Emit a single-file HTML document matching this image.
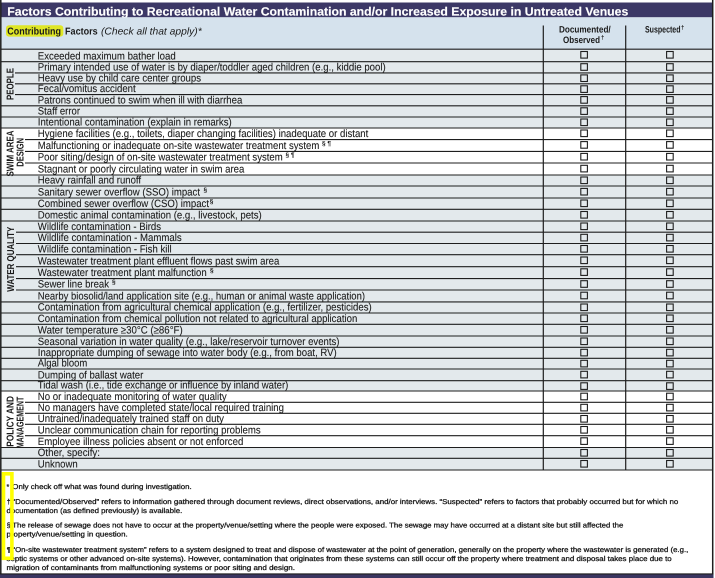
<!DOCTYPE html>
<html>
<head>
<meta charset="utf-8">
<style>
  html,body{margin:0;padding:0;background:#fff;width:715px;height:578px;overflow:hidden;}
  svg{display:block;}
  text{font-family:"Liberation Sans", Arial, sans-serif;}
</style>
</head>
<body>
<svg width="715" height="578" viewBox="0 0 715 578" xmlns="http://www.w3.org/2000/svg" text-rendering="geometricPrecision">
  <rect x="0" y="0" width="715" height="578" fill="#ffffff"/>

  <!-- Title bar -->
  <rect x="1.3" y="2.5" width="711.3" height="14.8" fill="#3c3866"/>
  <text x="7.3" y="15.6" font-size="11.9" font-weight="bold" fill="#ffffff" stroke="#ffffff" stroke-width="0.15" textLength="621" lengthAdjust="spacingAndGlyphs">Factors Contributing to Recreational Water Contamination and/or Increased Exposure in Untreated Venues</text>

  <!-- Header area -->
  <rect x="1.3" y="17.3" width="711.3" height="31.9" fill="#d5e2ed"/>
  <rect x="6" y="25.3" width="57.3" height="11.3" rx="3" fill="#dfe626"/>
  <text x="7.3" y="34.3" font-size="10" font-weight="bold" fill="#1a1a1a" textLength="53.7" lengthAdjust="spacingAndGlyphs">Contributing</text>
  <text x="65" y="34.3" font-size="10" font-weight="bold" fill="#1a1a1a" textLength="32.7" lengthAdjust="spacingAndGlyphs">Factors</text>
  <text x="101" y="34.3" font-size="10" font-style="italic" fill="#1a1a1a" textLength="100.7" lengthAdjust="spacingAndGlyphs">(Check all that apply)*</text>

  <text x="559" y="32.7" font-size="9.3" font-weight="bold" fill="#1a1a1a" textLength="51.7" lengthAdjust="spacingAndGlyphs">Documented/</text>
  <text x="563" y="43" font-size="9.3" font-weight="bold" fill="#1a1a1a" textLength="37" lengthAdjust="spacingAndGlyphs">Observed</text>
  <text x="601" y="39.3" font-size="6" font-weight="bold" fill="#1a1a1a">†</text>
  <text x="645" y="32.7" font-size="9.3" font-weight="bold" fill="#1a1a1a" textLength="35.5" lengthAdjust="spacingAndGlyphs">Suspected</text>
  <text x="681" y="29.3" font-size="6" font-weight="bold" fill="#1a1a1a">†</text>

  <!-- Row backgrounds -->
  <rect x="1.3" y="49.2" width="711.3" height="78.8" fill="#e3e9ec"/>
  <rect x="1.3" y="175" width="711.3" height="216" fill="#e3e9ec"/>
  <rect x="1.3" y="447.5" width="711.3" height="22.5" fill="#e3e9ec"/>

  <!-- Horizontal row lines -->
  <g stroke="#1e1e1e" stroke-width="1.1">
    <line x1="1" y1="49.2" x2="712.6" y2="49.2"/>
    <line x1="1" y1="61.7" x2="712.6" y2="61.7"/>
    <line x1="15" y1="72.9" x2="712.6" y2="72.9"/>
    <line x1="15" y1="83.8" x2="712.6" y2="83.8"/>
    <line x1="15" y1="94.6" x2="712.6" y2="94.6"/>
    <line x1="1" y1="105.8" x2="712.6" y2="105.8"/>
    <line x1="1" y1="117" x2="712.6" y2="117"/>
    <line x1="1" y1="128" x2="712.6" y2="128"/>
    <line x1="25" y1="139.6" x2="712.6" y2="139.6"/>
    <line x1="25" y1="151.4" x2="712.6" y2="151.4"/>
    <line x1="25" y1="163" x2="712.6" y2="163"/>
    <line x1="1" y1="175" x2="712.6" y2="175"/>
    <line x1="1" y1="186" x2="712.6" y2="186"/>
    <line x1="1" y1="198" x2="712.6" y2="198"/>
    <line x1="1" y1="209.3" x2="712.6" y2="209.3"/>
    <line x1="1" y1="221" x2="712.6" y2="221"/>
    <line x1="16" y1="232.2" x2="712.6" y2="232.2"/>
    <line x1="16" y1="243.5" x2="712.6" y2="243.5"/>
    <line x1="16" y1="254.7" x2="712.6" y2="254.7"/>
    <line x1="16" y1="266.7" x2="712.6" y2="266.7"/>
    <line x1="16" y1="278.6" x2="712.6" y2="278.6"/>
    <line x1="16" y1="290" x2="712.6" y2="290"/>
    <line x1="1" y1="301.9" x2="712.6" y2="301.9"/>
    <line x1="1" y1="313" x2="712.6" y2="313"/>
    <line x1="1" y1="324.3" x2="712.6" y2="324.3"/>
    <line x1="1" y1="336" x2="712.6" y2="336"/>
    <line x1="1" y1="347.3" x2="712.6" y2="347.3"/>
    <line x1="1" y1="358.3" x2="712.6" y2="358.3"/>
    <line x1="1" y1="369" x2="712.6" y2="369"/>
    <line x1="1" y1="380.7" x2="712.6" y2="380.7"/>
    <line x1="1" y1="391" x2="712.6" y2="391"/>
    <line x1="25" y1="402.3" x2="712.6" y2="402.3"/>
    <line x1="25" y1="413.3" x2="712.6" y2="413.3"/>
    <line x1="25" y1="424.3" x2="712.6" y2="424.3"/>
    <line x1="25" y1="435.7" x2="712.6" y2="435.7"/>
    <line x1="1" y1="447.5" x2="712.6" y2="447.5"/>
    <line x1="1" y1="458.3" x2="712.6" y2="458.3"/>
    <line x1="1" y1="470" x2="712.6" y2="470"/>
  </g>

  <!-- Column dividers and borders -->
  <g stroke="#1e1e1e">
    <line x1="543.3" y1="25.5" x2="543.3" y2="470" stroke-width="1.2"/>
    <line x1="625.7" y1="25.5" x2="625.7" y2="470" stroke-width="1.2"/>
    <line x1="0.8" y1="0" x2="0.8" y2="575" stroke-width="1.5"/>
    <line x1="712.7" y1="0" x2="712.7" y2="578" stroke-width="1.5"/>
    <line x1="0" y1="574" x2="713.5" y2="574" stroke-width="1.2"/>
  </g>
  <rect x="0" y="574.5" width="713.5" height="3.5" fill="#3a3560"/>

  <!-- Section labels (rotated) -->
  <g font-size="10" font-weight="bold" fill="#1a1a1a">
    <text transform="translate(13.5,100) rotate(-90)" textLength="32" lengthAdjust="spacingAndGlyphs">PEOPLE</text>
    <text transform="translate(13.5,176.5) rotate(-90)" textLength="46" lengthAdjust="spacingAndGlyphs">SWIM AREA</text>
    <text transform="translate(23.3,166.7) rotate(-90)" textLength="28.7" lengthAdjust="spacingAndGlyphs">DESIGN</text>
    <text transform="translate(14,291.7) rotate(-90)" textLength="65" lengthAdjust="spacingAndGlyphs">WATER QUALITY</text>
    <text transform="translate(13.5,446.7) rotate(-90)" textLength="50.7" lengthAdjust="spacingAndGlyphs">POLICY AND</text>
    <text transform="translate(23.3,448.3) rotate(-90)" textLength="51.6" lengthAdjust="spacingAndGlyphs">MANAGEMENT</text>
  </g>

  <!-- Row text -->
  <g font-size="10.6" fill="#1c1c1c" stroke="#1c1c1c" stroke-width="0.1">
    <text x="37.8" y="59.3" textLength="137.9" lengthAdjust="spacingAndGlyphs">Exceeded maximum bather load</text>
    <text x="37.8" y="70.5" textLength="347.9" lengthAdjust="spacingAndGlyphs">Primary intended use of water is by diaper/toddler aged children (e.g., kiddie pool)</text>
    <text x="37.8" y="81.4" textLength="163.2" lengthAdjust="spacingAndGlyphs">Heavy use by child care center groups</text>
    <text x="37.8" y="92.2" textLength="97.9" lengthAdjust="spacingAndGlyphs">Fecal/vomitus accident</text>
    <text x="37.8" y="103.4" textLength="204.5" lengthAdjust="spacingAndGlyphs">Patrons continued to swim when ill with diarrhea</text>
    <text x="37.8" y="114.6" textLength="42.2" lengthAdjust="spacingAndGlyphs">Staff error</text>
    <text x="37.8" y="125.6" textLength="193.9" lengthAdjust="spacingAndGlyphs">Intentional contamination (explain in remarks)</text>
    <text x="37.8" y="137.2" textLength="330.5" lengthAdjust="spacingAndGlyphs">Hygiene facilities (e.g., toilets, diaper changing facilities) inadequate or distant</text>
    <text x="37.8" y="149" textLength="281.5" lengthAdjust="spacingAndGlyphs">Malfunctioning or inadequate on-site wastewater treatment system</text>
    <text x="37.8" y="160.6" textLength="244.9" lengthAdjust="spacingAndGlyphs">Poor siting/design of on-site wastewater treatment system</text>
    <text x="37.8" y="172.6" textLength="206.5" lengthAdjust="spacingAndGlyphs">Stagnant or poorly circulating water in swim area</text>
    <text x="37.8" y="183.6" textLength="103.2" lengthAdjust="spacingAndGlyphs">Heavy rainfall and runoff</text>
    <text x="37.8" y="195.6" textLength="162.2" lengthAdjust="spacingAndGlyphs">Sanitary sewer overflow (SSO) impact</text>
    <text x="37.8" y="206.9" textLength="171.2" lengthAdjust="spacingAndGlyphs">Combined sewer overflow (CSO) impact</text>
    <text x="37.8" y="218.6" textLength="223.9" lengthAdjust="spacingAndGlyphs">Domestic animal contamination (e.g., livestock, pets)</text>
    <text x="37.8" y="229.8" textLength="123.2" lengthAdjust="spacingAndGlyphs">Wildlife contamination - Birds</text>
    <text x="37.8" y="241.1" textLength="143.9" lengthAdjust="spacingAndGlyphs">Wildlife contamination - Mammals</text>
    <text x="37.8" y="252.3" textLength="133.9" lengthAdjust="spacingAndGlyphs">Wildlife contamination - Fish kill</text>
    <text x="37.8" y="264.3" textLength="241.5" lengthAdjust="spacingAndGlyphs">Wastewater treatment plant effluent flows past swim area</text>
    <text x="37.8" y="276.2" textLength="168.9" lengthAdjust="spacingAndGlyphs">Wastewater treatment plant malfunction</text>
    <text x="37.8" y="287.6" textLength="71.2" lengthAdjust="spacingAndGlyphs">Sewer line break</text>
    <text x="37.8" y="299.5" textLength="327.2" lengthAdjust="spacingAndGlyphs">Nearby biosolid/land application site (e.g., human or animal waste application)</text>
    <text x="37.8" y="310.6" textLength="333.9" lengthAdjust="spacingAndGlyphs">Contamination from agricultural chemical application (e.g., fertilizer, pesticides)</text>
    <text x="37.8" y="321.9" textLength="319.5" lengthAdjust="spacingAndGlyphs">Contamination from chemical pollution not related to agricultural application</text>
    <text x="37.8" y="333.6" textLength="144.9" lengthAdjust="spacingAndGlyphs">Water temperature ≥30°C (≥86°F)</text>
    <text x="37.8" y="344.9" textLength="301.7" lengthAdjust="spacingAndGlyphs">Seasonal variation in water quality (e.g., lake/reservoir turnover events)</text>
    <text x="37.8" y="355.9" textLength="298.9" lengthAdjust="spacingAndGlyphs">Inappropriate dumping of sewage into water body (e.g., from boat, RV)</text>
    <text x="37.8" y="366.6" textLength="49.5" lengthAdjust="spacingAndGlyphs">Algal bloom</text>
    <text x="37.8" y="378.3" textLength="105.5" lengthAdjust="spacingAndGlyphs">Dumping of ballast water</text>
    <text x="37.8" y="388.6" textLength="250.5" lengthAdjust="spacingAndGlyphs">Tidal wash (i.e., tide exchange or influence by inland water)</text>
    <text x="37.8" y="399.9" textLength="188.9" lengthAdjust="spacingAndGlyphs">No or inadequate monitoring of water quality</text>
    <text x="37.8" y="410.9" textLength="246.2" lengthAdjust="spacingAndGlyphs">No managers have completed state/local required training</text>
    <text x="37.8" y="421.9" textLength="186.2" lengthAdjust="spacingAndGlyphs">Untrained/inadequately trained staff on duty</text>
    <text x="37.8" y="433.3" textLength="222.9" lengthAdjust="spacingAndGlyphs">Unclear communication chain for reporting problems</text>
    <text x="37.8" y="445.1" textLength="205.5" lengthAdjust="spacingAndGlyphs">Employee illness policies absent or not enforced</text>
    <text x="37.8" y="455.9" textLength="62.2" lengthAdjust="spacingAndGlyphs">Other, specify:</text>
    <text x="37.8" y="467.6" textLength="39.9" lengthAdjust="spacingAndGlyphs">Unknown</text>
  </g>

  <!-- Superscripts -->
  <g font-size="6.5" fill="#1c1c1c" font-weight="bold">
    <text x="322" y="145.5" textLength="9" lengthAdjust="spacingAndGlyphs">§ ¶</text>
    <text x="285.5" y="157.1" textLength="9" lengthAdjust="spacingAndGlyphs">§ ¶</text>
    <text x="203.5" y="192.1">§</text>
    <text x="209.8" y="203.4">§</text>
    <text x="210" y="272.7">§</text>
    <text x="112" y="284.1">§</text>
  </g>

  <!-- Checkboxes -->
  <g fill="none" stroke="#1e1e1e" stroke-width="1.1">
    <rect x="580.8" y="51.5" width="6.6" height="6.6"/><rect x="666.6" y="51.5" width="6.6" height="6.6"/>
    <rect x="580.8" y="63.7" width="6.6" height="6.6"/><rect x="666.6" y="63.7" width="6.6" height="6.6"/>
    <rect x="580.8" y="74.9" width="6.6" height="6.6"/><rect x="666.6" y="74.9" width="6.6" height="6.6"/>
    <rect x="580.8" y="85.8" width="6.6" height="6.6"/><rect x="666.6" y="85.8" width="6.6" height="6.6"/>
    <rect x="580.8" y="96.6" width="6.6" height="6.6"/><rect x="666.6" y="96.6" width="6.6" height="6.6"/>
    <rect x="580.8" y="107.8" width="6.6" height="6.6"/><rect x="666.6" y="107.8" width="6.6" height="6.6"/>
    <rect x="580.8" y="119" width="6.6" height="6.6"/><rect x="666.6" y="119" width="6.6" height="6.6"/>
    <rect x="580.8" y="130" width="6.6" height="6.6"/><rect x="666.6" y="130" width="6.6" height="6.6"/>
    <rect x="580.8" y="141.6" width="6.6" height="6.6"/><rect x="666.6" y="141.6" width="6.6" height="6.6"/>
    <rect x="580.8" y="153.4" width="6.6" height="6.6"/><rect x="666.6" y="153.4" width="6.6" height="6.6"/>
    <rect x="580.8" y="165.3" width="6.6" height="6.6"/><rect x="666.6" y="165.3" width="6.6" height="6.6"/>
    <rect x="580.8" y="177" width="6.6" height="6.6"/><rect x="666.6" y="177" width="6.6" height="6.6"/>
    <rect x="580.8" y="188.4" width="6.6" height="6.6"/><rect x="666.6" y="188.4" width="6.6" height="6.6"/>
    <rect x="580.8" y="200" width="6.6" height="6.6"/><rect x="666.6" y="200" width="6.6" height="6.6"/>
    <rect x="580.8" y="211.5" width="6.6" height="6.6"/><rect x="666.6" y="211.5" width="6.6" height="6.6"/>
    <rect x="580.8" y="223" width="6.6" height="6.6"/><rect x="666.6" y="223" width="6.6" height="6.6"/>
    <rect x="580.8" y="234.3" width="6.6" height="6.6"/><rect x="666.6" y="234.3" width="6.6" height="6.6"/>
    <rect x="580.8" y="245.5" width="6.6" height="6.6"/><rect x="666.6" y="245.5" width="6.6" height="6.6"/>
    <rect x="580.8" y="257" width="6.6" height="6.6"/><rect x="666.6" y="257" width="6.6" height="6.6"/>
    <rect x="580.8" y="268.8" width="6.6" height="6.6"/><rect x="666.6" y="268.8" width="6.6" height="6.6"/>
    <rect x="580.8" y="280.7" width="6.6" height="6.6"/><rect x="666.6" y="280.7" width="6.6" height="6.6"/>
    <rect x="580.8" y="292.2" width="6.6" height="6.6"/><rect x="666.6" y="292.2" width="6.6" height="6.6"/>
    <rect x="580.8" y="304" width="6.6" height="6.6"/><rect x="666.6" y="304" width="6.6" height="6.6"/>
    <rect x="580.8" y="315" width="6.6" height="6.6"/><rect x="666.6" y="315" width="6.6" height="6.6"/>
    <rect x="580.8" y="326.5" width="6.6" height="6.6"/><rect x="666.6" y="326.5" width="6.6" height="6.6"/>
    <rect x="580.8" y="338" width="6.6" height="6.6"/><rect x="666.6" y="338" width="6.6" height="6.6"/>
    <rect x="580.8" y="349.3" width="6.6" height="6.6"/><rect x="666.6" y="349.3" width="6.6" height="6.6"/>
    <rect x="580.8" y="360.3" width="6.6" height="6.6"/><rect x="666.6" y="360.3" width="6.6" height="6.6"/>
    <rect x="580.8" y="371.3" width="6.6" height="6.6"/><rect x="666.6" y="371.3" width="6.6" height="6.6"/>
    <rect x="580.8" y="382.8" width="6.6" height="6.6"/><rect x="666.6" y="382.8" width="6.6" height="6.6"/>
    <rect x="580.8" y="393.2" width="6.6" height="6.6"/><rect x="666.6" y="393.2" width="6.6" height="6.6"/>
    <rect x="580.8" y="404.3" width="6.6" height="6.6"/><rect x="666.6" y="404.3" width="6.6" height="6.6"/>
    <rect x="580.8" y="415.5" width="6.6" height="6.6"/><rect x="666.6" y="415.5" width="6.6" height="6.6"/>
    <rect x="580.8" y="426.5" width="6.6" height="6.6"/><rect x="666.6" y="426.5" width="6.6" height="6.6"/>
    <rect x="580.8" y="437.8" width="6.6" height="6.6"/><rect x="666.6" y="437.8" width="6.6" height="6.6"/>
    <rect x="580.8" y="449.5" width="6.6" height="6.6"/><rect x="666.6" y="449.5" width="6.6" height="6.6"/>
    <rect x="580.8" y="460.5" width="6.6" height="6.6"/><rect x="666.6" y="460.5" width="6.6" height="6.6"/>
  </g>

  <!-- Footnotes -->
  <g font-size="7" fill="#1a1a1a" stroke="#1a1a1a" stroke-width="0.3">
    <text x="6.5" y="489">*</text>
    <text x="12.3" y="489" textLength="179.4" lengthAdjust="spacingAndGlyphs">Only check off what was found during investigation.</text>
    <text x="6.7" y="504">†</text>
    <text x="12.5" y="504" textLength="665.8" lengthAdjust="spacingAndGlyphs">“Documented/Observed” refers to information gathered through document reviews, direct observations, and/or interviews. “Suspected” refers to factors that probably occurred but for which no</text>
    <text x="6.5" y="513" textLength="175.8" lengthAdjust="spacingAndGlyphs">documentation (as defined previously) is available.</text>
    <text x="6.7" y="527.5">§</text>
    <text x="12.3" y="527.5" textLength="611" lengthAdjust="spacingAndGlyphs">The release of sewage does not have to occur at the property/venue/setting where the people were exposed. The sewage may have occurred at a distant site but still affected the</text>
    <text x="6.5" y="536.5" textLength="121.2" lengthAdjust="spacingAndGlyphs">property/venue/setting in question.</text>
    <text x="6.7" y="552">¶</text>
    <text x="12.5" y="552" textLength="675.8" lengthAdjust="spacingAndGlyphs">“On-site wastewater treatment system” refers to a system designed to treat and dispose of wastewater at the point of generation, generally on the property where the wastewater is generated (e.g.,</text>
    <text x="6.5" y="561" textLength="665.2" lengthAdjust="spacingAndGlyphs">septic systems or other advanced on-site systems). However, contamination that originates from these systems can still occur off the property where treatment and disposal takes place due to</text>
    <text x="6.5" y="570" textLength="288.5" lengthAdjust="spacingAndGlyphs">migration of contaminants from malfunctioning systems or poor siting and design.</text>
  </g>

  <!-- Yellow highlight box -->
  <rect x="3.5" y="473.8" width="8.4" height="84.5" fill="none" stroke="#ffff00" stroke-width="3.6"/>
</svg>
</body>
</html>
